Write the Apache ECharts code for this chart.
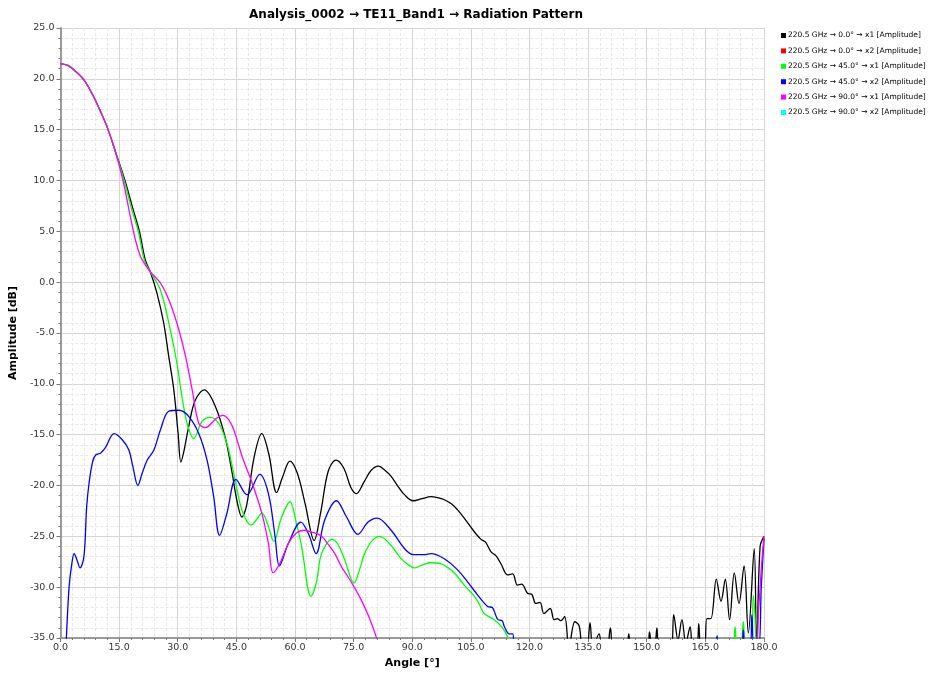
<!DOCTYPE html>
<html>
<head>
<meta charset="utf-8">
<script src="https://cdn.jsdelivr.net/npm/echarts@6/dist/echarts.min.js"></script>
<style>html,body{margin:0;padding:0;background:#fff}#c{width:937px;height:675px}</style>
</head>
<body>
<div id="c"></div>
<script>
const titleText = 'Analysis_0002 \u2192 TE11_Band1 \u2192 Radiation Pattern';
const seriesNames = [
  '220.5 GHz \u2192 0.0\u00b0 \u2192 x1 [Amplitude]',
  '220.5 GHz \u2192 0.0\u00b0 \u2192 x2 [Amplitude]',
  '220.5 GHz \u2192 45.0\u00b0 \u2192 x1 [Amplitude]',
  '220.5 GHz \u2192 45.0\u00b0 \u2192 x2 [Amplitude]',
  '220.5 GHz \u2192 90.0\u00b0 \u2192 x1 [Amplitude]',
  '220.5 GHz \u2192 90.0\u00b0 \u2192 x2 [Amplitude]'
];
const seriesColors = ['#000000','#ff0000','#00ff00','#0000ff','#ff00ff','#00ffff'];

const phi0x1 = [
[0,21.5],[2,21.3],[4,20.7],[6,19.9],[8,18.6],[10,17.0],[12,15.2],[14,12.9],[16.5,10.0],[18.4,7.4],[20.2,5.0],[21.7,2.2],[23.0,1.0],[24.7,-1.1],[26.4,-4.0],[27.7,-7.3],[29.0,-10.6],[30.1,-14.9],[30.8,-17.7],[31.6,-16.6],[32.8,-14.2],[34.5,-11.6],[36.8,-10.6],[39.6,-12.2],[42.1,-15.2],[43.8,-18.5],[45.2,-21.6],[46.4,-23.1],[47.6,-22.0],[49.5,-17.3],[51.5,-14.9],[53.3,-16.9],[55.3,-20.7],[56.8,-19.2],[58.7,-17.6],[60.6,-18.8],[62.6,-21.8],[64.9,-25.4],[66.6,-22.6],[68.5,-18.6],[70.5,-17.5],[72.5,-18.3],[74.3,-20.2],[75.7,-20.8],[77.6,-19.7],[79.5,-18.5],[81.4,-18.1],[83.0,-18.5],[84.6,-19.1],[86.4,-20.1],[88.0,-20.9],[90.2,-21.5],[92.5,-21.3],[94.8,-21.1],[96.5,-21.2],[98.2,-21.4],[100.0,-21.8],[101.6,-22.4],[103.3,-23.2],[105.0,-24.1],[106.4,-24.8],[107.6,-25.3],[108.8,-25.6],[110.1,-26.5],[111.4,-26.9],[112.7,-27.7],[114.4,-28.8],[115.7,-28.7],[116.9,-29.8],[118.0,-29.7],[119.5,-30.6],[120.6,-30.7],[121.6,-31.6],[122.7,-31.5],[123.7,-32.6],[125.3,-32.1],[126.3,-33.2],[127.1,-33.1],[128.0,-33.3],[129.0,-32.9],[130.1,-36.0],[131.6,-33.4],[132.7,-33.8],[133.6,-36.0],[134.6,-36.0],[135.5,-33.5],[136.2,-36.0],[137.8,-34.6],[138.6,-36.0],[139.8,-36.0],[140.7,-34.0],[141.6,-36.0],[144.8,-36.0],[145.4,-34.6],[146.0,-36.0],[150.2,-36.0],[150.7,-34.4],[151.4,-36.0],[152.0,-36.0],[152.6,-34.0],[153.2,-36.0],[156.2,-36.0],[156.9,-32.7],[158.0,-35.2],[159.0,-33.2],[160.0,-35.5],[161.1,-33.9],[161.8,-36.0],[162.8,-36.0],[163.3,-33.6],[163.9,-36.0],[164.8,-36.0],[165.4,-33.1],[166.4,-33.1],[167.8,-29.2],[169.0,-31.4],[170.1,-29.2],[171.2,-33.2],[172.4,-28.6],[173.6,-31.6],[174.9,-27.9],[176.0,-34.5],[177.5,-26.2],[178.1,-36.0],[179.0,-26.0],[180.0,-25.0]
];
const phi0x2 = [];
const phi45x1 = [
[0,21.5],[2,21.3],[4,20.7],[6,19.9],[8,18.6],[10,17.0],[12,15.2],[14,12.9],[16.3,10.0],[18.2,7.2],[19.9,5.0],[21.5,2.1],[23.0,1.0],[25.6,-0.8],[28.1,-4.7],[29.8,-8.0],[31.1,-11.3],[32.4,-13.9],[34.1,-15.4],[36.2,-13.7],[38.3,-13.3],[40.5,-13.9],[42.6,-15.9],[43.6,-17.5],[44.7,-19.5],[46.5,-22.5],[48.8,-23.9],[50.3,-23.3],[51.5,-22.7],[53.0,-23.8],[54.6,-25.5],[56.5,-23.2],[58.7,-21.6],[60.3,-23.6],[61.7,-26.0],[64.1,-30.9],[65.5,-29.5],[66.8,-26.7],[69.5,-25.3],[71.0,-25.8],[72.7,-27.3],[75.1,-29.6],[76.5,-28.3],[77.8,-26.7],[79.8,-25.4],[81.7,-25.0],[84.6,-25.9],[86.5,-26.9],[88.0,-27.5],[90.6,-28.1],[92.7,-27.8],[94.8,-27.6],[97.4,-27.7],[99.2,-28.1],[100.8,-28.6],[103.3,-29.8],[105.9,-30.9],[107.2,-31.7],[108.4,-32.6],[111.0,-33.2],[113.1,-34.0],[114.4,-34.9],[115.2,-36.0],[172.0,-36.0],[172.6,-33.9],[173.2,-36.0],[174.1,-36.0],[174.7,-33.4],[175.4,-36.0],[176.6,-36.0],[177.3,-30.8],[178.0,-36.0]
];
const phi45x2 = [
[0.8,-40.0],[1.5,-35.0],[2.2,-30.0],[2.9,-27.7],[3.5,-26.7],[4.2,-27.3],[5.0,-28.1],[6.0,-27.0],[6.7,-22.1],[7.3,-19.8],[8.2,-17.7],[9.0,-17.0],[10.3,-16.8],[11.6,-16.2],[13.7,-14.9],[15.8,-15.5],[17.5,-16.5],[18.5,-18.1],[19.8,-20.0],[20.9,-18.8],[22.2,-17.5],[23.9,-16.5],[25.6,-14.5],[27.7,-12.7],[30.3,-12.6],[32.8,-13.2],[35.4,-14.9],[37.5,-17.5],[39.2,-21.1],[40.7,-24.9],[42.6,-22.7],[44.9,-19.4],[47.7,-20.9],[51.0,-18.9],[53.2,-20.8],[54.9,-25.0],[56.0,-27.9],[58.3,-25.7],[61.5,-23.6],[63.5,-24.8],[65.4,-26.7],[67.6,-23.4],[70.6,-21.5],[73.2,-23.1],[76.1,-24.8],[78.7,-23.6],[81.0,-23.2],[84.6,-24.4],[88.0,-26.2],[90.2,-26.8],[93.1,-26.8],[94.8,-26.7],[98.2,-27.2],[101.6,-28.3],[104.2,-29.5],[106.8,-30.8],[109.3,-31.9],[110.5,-32.0],[111.9,-33.2],[113.0,-33.3],[113.6,-33.9],[114.8,-34.6],[115.7,-34.6],[116.3,-36.0],[167.5,-36.0],[168.0,-34.8],[168.5,-36.0],[174.2,-36.0],[174.7,-34.2],[175.2,-36.0],[176.4,-36.0],[176.9,-32.7],[177.5,-36.0],[178.6,-36.0],[179.3,-30.0],[180.0,-25.2]
];
const phi90x1 = [
[0,21.5],[2,21.3],[4,20.7],[6,19.9],[8,18.6],[10,17.0],[12,15.2],[14,12.9],[16.0,10.0],[17.9,6.4],[19.2,4.1],[20.5,2.5],[21.7,1.7],[23.0,1.0],[25.6,-0.1],[28.1,-2.1],[30.3,-4.7],[32.0,-7.3],[33.7,-10.6],[35.4,-13.9],[37.1,-14.3],[39.6,-13.5],[41.5,-13.1],[43.0,-13.5],[44.3,-14.5],[45.4,-15.8],[46.6,-17.3],[48.9,-19.6],[51.5,-22.7],[53.2,-25.7],[54.4,-28.6],[56.2,-27.6],[58.3,-25.7],[60.3,-24.7],[62.3,-24.4],[64.5,-24.6],[66.8,-25.0],[68.5,-25.8],[70.2,-26.7],[71.9,-28.0],[73.6,-29.0],[75.3,-30.1],[77.0,-31.3],[79.0,-33.0],[80.8,-34.9],[81.5,-36.0],[177.7,-36.0],[178.6,-32.3],[179.4,-27.7],[180.0,-25.0]
];
const phi90x2 = [];
const seriesData = [phi0x1, phi0x2, phi45x1, phi45x2, phi90x1, phi90x2];

const xTickMin = 0, xTickMax = 180, xTickStep = 15;
const yTickMin = -35, yTickMax = 25, yTickStep = 5;

const FONT = 'DejaVu Sans';
const chart = echarts.init(document.getElementById('c'), null, {renderer: 'canvas'});
chart.setOption({
  animation: false,
  backgroundColor: '#ffffff',
  title: {
    text: titleText,
    left: 411, top: 4, textAlign: 'center',
    textStyle: {fontFamily: FONT, fontSize: 12, fontWeight: 'bold', color: '#000'}
  },
  legend: {
    orient: 'vertical',
    left: 776, top: 25,
    icon: 'rect',
    itemWidth: 5, itemHeight: 5, itemGap: 4.4,
    textStyle: {fontFamily: FONT, fontSize: 7.5, color: '#000', lineHeight: 11, padding: [0,0,0,-3]},
    data: seriesNames
  },
  grid: {left: 58, right: 173, top: 28, bottom: 37, containLabel: false},
  xAxis: {
    type: 'value', min: xTickMin, max: xTickMax, interval: xTickStep,
    name: 'Angle [\u00b0]', nameLocation: 'middle', nameGap: 18,
    nameTextStyle: {fontFamily: FONT, fontSize: 11, fontWeight: 'bold', color: '#000'},
    axisLine: {show: true, onZero: false, lineStyle: {color: '#9a9a9a', width: 2}},
    axisTick: {show: true, length: 4, lineStyle: {color: '#777'}},
    minorTick: {show: true, splitNumber: 5, length: 2, lineStyle: {color: '#777'}},
    axisLabel: {fontFamily: FONT, fontSize: 9.5, color: '#333', margin: 5, formatter: v => v.toFixed(1)},
    splitLine: {show: true, lineStyle: {color: '#d4d4d4', width: 1}},
    minorSplitLine: {show: true, lineStyle: {color: '#e8e8e8', width: 1, type: [3, 2]}}
  },
  yAxis: {
    type: 'value', min: yTickMin, max: yTickMax, interval: yTickStep,
    name: 'Amplitude [dB]', nameLocation: 'middle', nameGap: 36,
    nameTextStyle: {fontFamily: FONT, fontSize: 11, fontWeight: 'bold', color: '#000'},
    axisLine: {show: true, onZero: false, lineStyle: {color: '#9a9a9a', width: 2}},
    axisTick: {show: true, length: 4, lineStyle: {color: '#777'}},
    minorTick: {show: true, splitNumber: 5, length: 2, lineStyle: {color: '#777'}},
    axisLabel: {fontFamily: FONT, fontSize: 9.5, color: '#333', margin: 6, formatter: v => v.toFixed(1)},
    splitLine: {show: true, lineStyle: {color: '#d4d4d4', width: 1}},
    minorSplitLine: {show: true, lineStyle: {color: '#e8e8e8', width: 1, type: [3, 2]}}
  },
  series: seriesNames.map((n, i) => ({
    name: n, type: 'line', data: seriesData[i],
    showSymbol: false, symbol: 'none', clip: true,
    smooth: 0.35,
    color: seriesColors[i],
    lineStyle: {color: seriesColors[i], width: 1.3},
    emphasis: {disabled: true}
  }))
});
</script>
</body>
</html>
